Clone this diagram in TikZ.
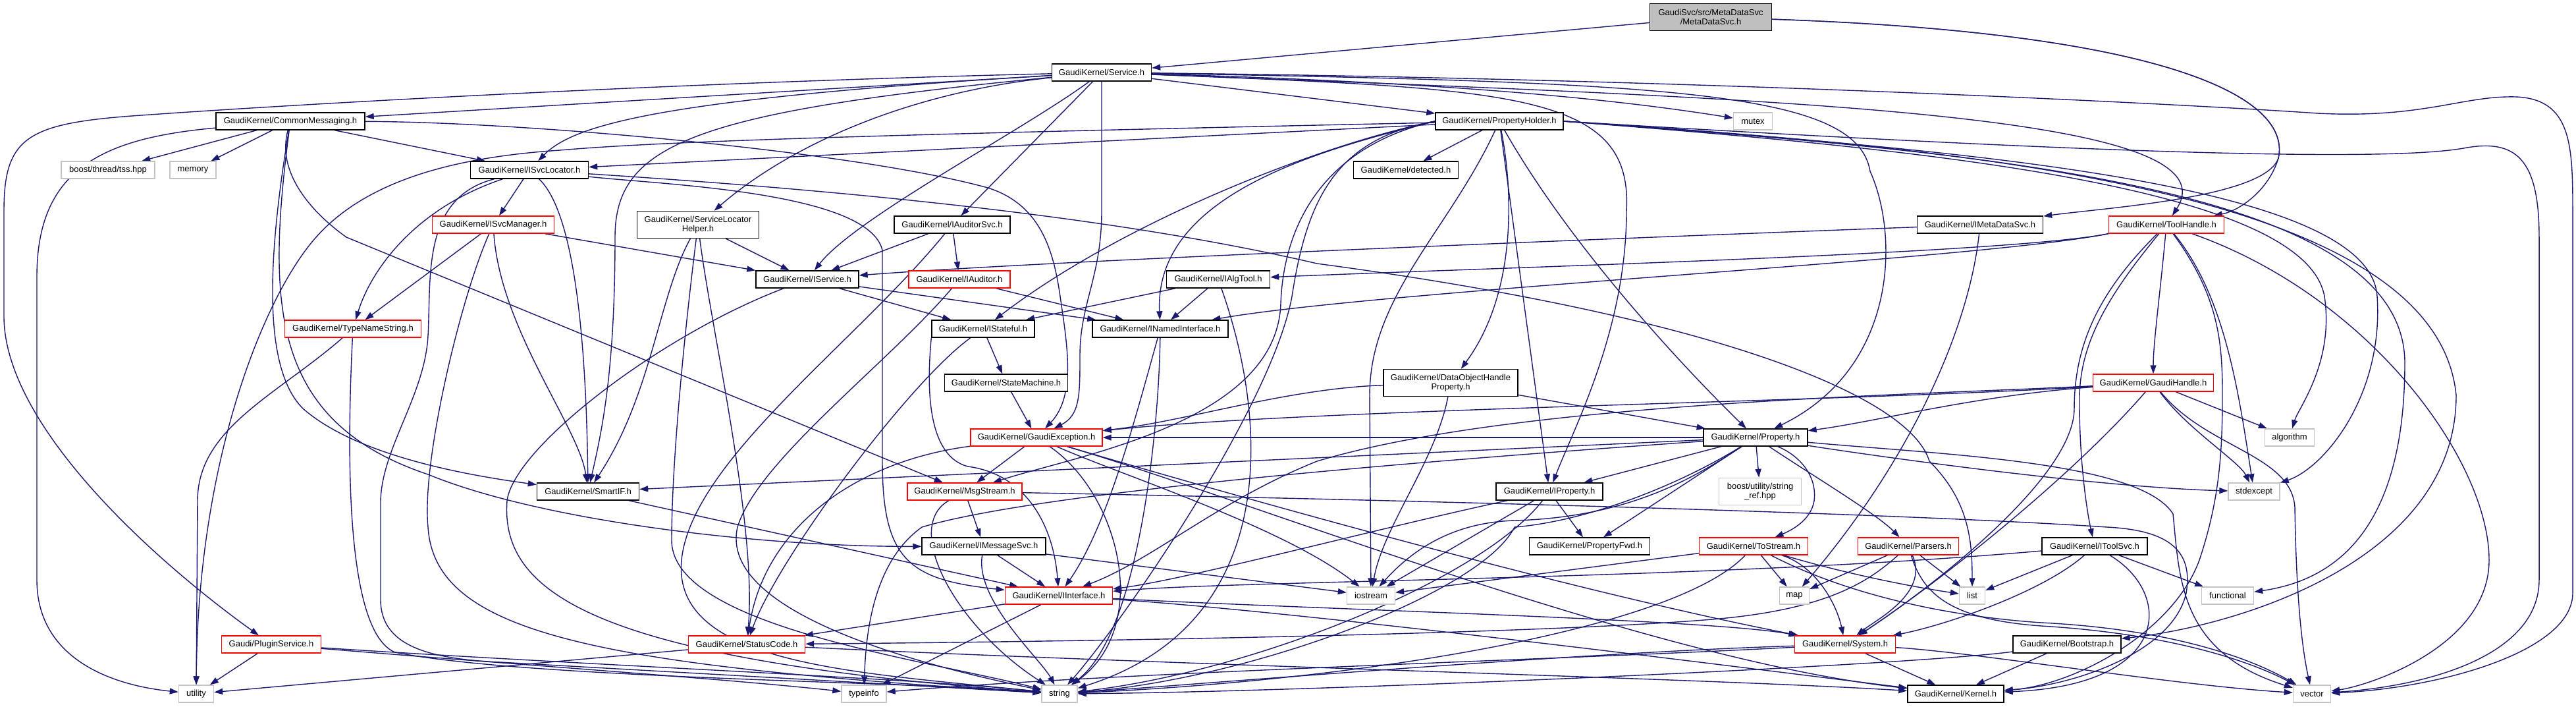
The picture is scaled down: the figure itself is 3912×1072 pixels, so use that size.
\documentclass[tikz,border=0pt]{standalone}
\usepackage{fontspec}
\setmainfont{Liberation Sans}
\usetikzlibrary{arrows.meta}
\definecolor{edgec}{HTML}{191970}
\definecolor{greyb}{HTML}{C4C4C4}
\definecolor{mdsfill}{HTML}{BFBFBF}
\pgfdeclarelayer{bg}
\pgfsetlayers{bg,main}
\begin{document}
\begin{tikzpicture}[x=1pt,y=-1pt,
  nodebase/.style={rectangle, fill=white, line width=1.4pt, minimum height=26pt, inner xsep=1pt, inner ysep=1pt, font=\fontsize{13pt}{14pt}\selectfont},
  nb/.style={nodebase, draw=black},
  nr/.style={nodebase, draw=red},
  ng/.style={nodebase, draw=greyb},
  two/.style={align=center, minimum height=41pt},
  e/.style={draw=edgec, line width=1.4pt, -{Triangle[length=13pt,width=9pt]}}
]
\useasboundingbox (0,0) rectangle (3912,1072);
% nodes
\node[nb, two, fill=mdsfill, minimum width=185pt] (mds) at (2598,26) {GaudiSvc/src/MetaDataSvc\\/MetaDataSvc.h};
\node[nb, minimum width=151pt] (service) at (1673,110) {GaudiKernel/Service.h};
\node[nb, minimum width=226pt] (commsg) at (441,184) {GaudiKernel/CommonMessaging.h};
\node[nb, minimum width=194pt] (propholder) at (2277,184) {GaudiKernel/PropertyHolder.h};
\node[ng, minimum width=59pt] (mutex) at (2662,184) {mutex};
\node[ng, minimum width=142pt] (tss) at (164,258) {boost/thread/tss.hpp};
\node[ng, minimum width=70pt] (memory) at (293,258) {memory};
\node[nb, minimum width=179pt] (isvcloc) at (804,258) {GaudiKernel/ISvcLocator.h};
\node[nb, minimum width=159pt] (detected) at (2135,258) {GaudiKernel/detected.h};
\node[nr, minimum width=185pt] (ismgr) at (749,341) {GaudiKernel/ISvcManager.h};
\node[nb, two, minimum width=185pt] (slh) at (1060,341) {GaudiKernel/ServiceLocator\\Helper.h};
\node[nb, minimum width=176pt] (iaudsvc) at (1446,341) {GaudiKernel/IAuditorSvc.h};
\node[nb, minimum width=191pt] (imds) at (3007,341) {GaudiKernel/IMetaDataSvc.h};
\node[nr, minimum width=175pt] (toolhandle) at (3290,341) {GaudiKernel/ToolHandle.h};
\node[nb, minimum width=156pt] (iservice) at (1226,424) {GaudiKernel/IService.h};
\node[nr, minimum width=154pt] (iauditor) at (1457,424) {GaudiKernel/IAuditor.h};
\node[nb, minimum width=157pt] (ialgtool) at (1850,424) {GaudiKernel/IAlgTool.h};
\node[nr, minimum width=207pt] (typename) at (536,499) {GaudiKernel/TypeNameString.h};
\node[nb, minimum width=156pt] (istateful) at (1493,499) {GaudiKernel/IStateful.h};
\node[nb, minimum width=206pt] (inamed) at (1762,499) {GaudiKernel/INamedInterface.h};
\node[nb, minimum width=187pt] (statemachine) at (1528,581) {GaudiKernel/StateMachine.h};
\node[nb, two, minimum width=204pt] (dohp) at (2203,581) {GaudiKernel/DataObjectHandle\\Property.h};
\node[nr, minimum width=183pt] (gaudihandle) at (3270,581) {GaudiKernel/GaudiHandle.h};
\node[nr, minimum width=200pt] (gexc) at (1574,664) {GaudiKernel/GaudiException.h};
\node[nb, minimum width=158pt] (property) at (2666,664) {GaudiKernel/Property.h};
\node[ng, minimum width=75pt] (algorithm) at (3477,664) {algorithm};
\node[nb, minimum width=155pt] (smartif) at (893,746) {GaudiKernel/SmartIF.h};
\node[nr, minimum width=174pt] (msgstream) at (1465,746) {GaudiKernel/MsgStream.h};
\node[nb, minimum width=162pt] (iproperty) at (2353,746) {GaudiKernel/IProperty.h};
\node[ng, two, minimum width=125pt] (stringref) at (2673,746) {boost/utility/string\\\_ref.hpp};
\node[ng, minimum width=78pt] (stdexcept) at (3423,746) {stdexcept};
\node[nb, minimum width=188pt] (imsgsvc) at (1494,829) {GaudiKernel/IMessageSvc.h};
\node[nb, minimum width=183pt] (propfwd) at (2414,829) {GaudiKernel/PropertyFwd.h};
\node[nr, minimum width=165pt] (tostream) at (2663,829) {GaudiKernel/ToStream.h};
\node[nr, minimum width=153pt] (parsers) at (2898,829) {GaudiKernel/Parsers.h};
\node[nb, minimum width=160pt] (itoolsvc) at (3181,829) {GaudiKernel/IToolSvc.h};
\node[nr, minimum width=163pt] (iinterface) at (1608,904) {GaudiKernel/IInterface.h};
\node[ng, minimum width=73pt] (iostream) at (2082,904) {iostream};
\node[ng, minimum width=45pt] (map) at (2725,904) {map};
\node[ng, minimum width=39pt] (list) at (2995,904) {list};
\node[ng, minimum width=79pt] (functional) at (3383,904) {functional};
\node[nr, minimum width=151pt] (pluginsvc) at (412,978) {Gaudi/PluginService.h};
\node[nr, minimum width=177pt] (statuscode) at (1134,978) {GaudiKernel/StatusCode.h};
\node[nr, minimum width=153pt] (system) at (2802,978) {GaudiKernel/System.h};
\node[nb, minimum width=164pt] (bootstrap) at (3139,978) {GaudiKernel/Bootstrap.h};
\node[ng, minimum width=53pt] (utility) at (298,1053) {utility};
\node[ng, minimum width=68pt] (typeinfo) at (1312,1053) {typeinfo};
\node[ng, minimum width=54pt] (string) at (1609,1053) {string};
\node[nb, minimum width=146pt] (kernel) at (2970,1053) {GaudiKernel/Kernel.h};
\node[ng, minimum width=57pt] (vector) at (3511,1053) {vector};

\begin{pgfonlayer}{bg}
% MetaDataSvc
\draw[e] (mds) -- (service);
\draw[e] (mds) .. controls (3300,50) and (3480,150) .. (3460,240) .. controls (3440,300) and (3200,315) .. (imds);
\draw[e] (mds) .. controls (3300,50) and (3480,150) .. (3460,240) .. controls (3445,290) and (3400,320) .. (toolhandle);
% Service
\draw[e] (service) -- (commsg);
\draw[e] (service) .. controls (1000,126) and (420,160) .. (200,176) .. controls (40,188) and (6,210) .. (6,320) -- (6,480) .. controls (6,640) and (220,840) .. (pluginsvc);
\draw[e] (service) .. controls (1000,150) and (870,190) .. (isvcloc);
\draw[e] (service) .. controls (1380,140) and (1200,220) .. (slh);
\draw[e] (service) -- (iaudsvc);
\draw[e] (service) .. controls (1550,200) and (1300,330) .. (iservice);
\draw[e] (service) -- (propholder);
\draw[e] (service) .. controls (2200,125) and (2450,150) .. (mutex);
\draw[e] (service) .. controls (2600,120) and (3350,160) .. (3520,172) .. controls (3680,180) and (3740,145) .. (3820,147) .. controls (3905,150) and (3907,220) .. (3907,320) -- (3907,900) .. controls (3907,990) and (3700,1045) .. (vector);
\draw[e] (service) .. controls (2300,135) and (2480,140) .. (2470,320) .. controls (2470,500) and (2390,650) .. (iproperty);
\draw[e] (service) .. controls (2550,125) and (2820,140) .. (2840,260) .. controls (2885,360) and (2880,560) .. (property);
\draw[e] (service) .. controls (1050,170) and (934,220) .. (934,360) .. controls (934,560) and (915,650) .. (smartif);
\draw[e] (service) -- (1673,320) .. controls (1673,420) and (1640,460) .. (1640,540) .. controls (1640,600) and (1640,630) .. (gexc);
\draw[e] (service) .. controls (2700,150) and (3400,170) .. (toolhandle);
% CommonMessaging
\draw[e] (commsg) -- (tss);
\draw[e] (commsg) -- (memory);
\draw[e] (commsg) -- (isvcloc);
\draw[e] (commsg) .. controls (150,210) and (56,260) .. (56,420) -- (56,880) .. controls (56,1000) and (170,1040) .. (utility);
\draw[e] (commsg) .. controls (420,260) and (470,320) .. (526,360) -- (msgstream);
\draw[e] (commsg) .. controls (405,400) and (400,560) .. (460,620) .. controls (540,690) and (700,720) .. (smartif);
\draw[e] (commsg) .. controls (405,460) and (410,640) .. (650,720) .. controls (820,790) and (1150,830) .. (imsgsvc);
\draw[e] (commsg) .. controls (800,185) and (1300,230) .. (1500,285) .. controls (1580,310) and (1600,380) .. (1610,450) .. controls (1620,520) and (1635,600) .. (gexc);
% ISvcLocator
\draw[e] (isvcloc) -- (ismgr);
\draw[e] (isvcloc) .. controls (620,320) and (560,420) .. (typename);
\draw[e] (isvcloc) .. controls (870,320) and (890,500) .. (smartif);
\draw[e] (isvcloc) .. controls (640,300) and (655,420) .. (650,510) .. controls (645,600) and (580,680) .. (578,760) -- (578,910) .. controls (578,980) and (650,1000) .. (760,1005) -- (string);
\draw[e] (isvcloc) .. controls (1000,280) and (1320,290) .. (1340,380) -- (1340,700) .. controls (1340,850) and (1380,880) .. (iinterface);
\draw[e] (isvcloc) .. controls (1300,290) and (1700,330) .. (2000,400) .. controls (2600,480) and (2900,600) .. (2930,700) .. controls (2990,760) and (2995,820) .. (list);
% ISvcManager
\draw[e] (ismgr) -- (typename);
\draw[e] (ismgr) -- (iservice);
\draw[e] (ismgr) .. controls (760,500) and (880,650) .. (smartif);
\draw[e] (ismgr) .. controls (700,450) and (640,700) .. (650,800) .. controls (660,960) and (900,1010) .. (string);
% ServiceLocatorHelper
\draw[e] (slh) -- (iservice);
\draw[e] (slh) .. controls (1000,450) and (990,600) .. (smartif);
\draw[e] (slh) .. controls (1040,500) and (1020,700) .. (1020,820) .. controls (1020,950) and (1400,1000) .. (string);
\draw[e] (slh) .. controls (1080,500) and (1150,800) .. (statuscode);
% IAuditorSvc
\draw[e] (iaudsvc) -- (iservice);
\draw[e] (iaudsvc) -- (iauditor);
\draw[e] (iaudsvc) .. controls (1300,520) and (1050,700) .. (1035,850) .. controls (1020,1010) and (1300,1020) .. (string);
% IMetaDataSvc
\draw[e] (imds) .. controls (2500,360) and (1600,395) .. (iservice);
\draw[e] (imds) .. controls (2990,500) and (2900,700) .. (map);
% ToolHandle
\draw[e] (toolhandle) .. controls (3280,450) and (3270,520) .. (gaudihandle);
\draw[e] (toolhandle.south west) .. controls (3050,385) and (2300,405) .. (ialgtool);
\draw[e] (toolhandle.south west) .. controls (3000,395) and (2100,440) .. (inamed);
\draw[e] (toolhandle) .. controls (3200,450) and (3160,520) .. (3158,600) .. controls (3157,700) and (3170,780) .. (itoolsvc);
\draw[e] (toolhandle) .. controls (3380,450) and (3400,600) .. (stdexcept);
\draw[e] (toolhandle) .. controls (3600,450) and (3780,700) .. (3780,850) .. controls (3780,980) and (3600,1040) .. (vector);
\draw[e] (toolhandle) .. controls (3370,450) and (3375,520) .. (3375,600) .. controls (3375,690) and (3370,760) .. (3340,850) .. controls (3300,960) and (3150,1040) .. (kernel);
\draw[e] (toolhandle) .. controls (3190,440) and (3150,520) .. (3150,620) .. controls (3150,720) and (2950,880) .. (system);
% IService
\draw[e] (iservice) -- (istateful);
\draw[e] (iservice) -- (inamed);
\draw[e] (iservice) .. controls (1000,510) and (780,680) .. (770,760) .. controls (760,900) and (900,1000) .. (string);
% IAuditor
\draw[e] (iauditor) -- (inamed);
\draw[e] (iauditor) .. controls (1350,550) and (1150,700) .. (1120,800) .. controls (1090,930) and (1400,1010) .. (string);
% IAlgTool
\draw[e] (ialgtool) -- (istateful);
\draw[e] (ialgtool) -- (inamed);
\draw[e] (ialgtool) .. controls (1930,650) and (1940,950) .. (string);
% TypeNameString
\draw[e] (typename) .. controls (420,600) and (300,650) .. (300,760) -- (utility);
\draw[e] (typename) .. controls (526,700) and (526,960) .. (600,990) .. controls (800,1030) and (1400,1035) .. (string);
% IStateful
\draw[e] (istateful) -- (statemachine);
\draw[e] (istateful.south west) .. controls (1410,560) and (1400,690) .. (1470,708) .. controls (1560,720) and (1600,800) .. (iinterface);
\draw[e] (istateful) .. controls (1380,580) and (1180,850) .. (statuscode);
% INamedInterface
\draw[e] (inamed) .. controls (1720,650) and (1680,800) .. (iinterface);
\draw[e] (inamed) .. controls (1760,650) and (1730,960) .. (string);
% StateMachine
\draw[e] (statemachine) -- (gexc);
% DataObjectHandleProperty
\draw[e] (dohp) -- (property);
\draw[e] (dohp) .. controls (2180,700) and (2100,800) .. (iostream);
\draw[e] (dohp) .. controls (1950,590) and (1800,640) .. (gexc);
% GaudiHandle
\draw[e] (gaudihandle) -- (algorithm);
\draw[e] (gaudihandle) .. controls (3000,600) and (2850,640) .. (property);
\draw[e] (gaudihandle) .. controls (2800,610) and (2000,620) .. (gexc);
\draw[e] (gaudihandle) .. controls (2900,600) and (2300,610) .. (2000,700) .. controls (1850,760) and (1750,850) .. (iinterface);
\draw[e] (gaudihandle) .. controls (3150,720) and (2950,880) .. (system);
\draw[e] (gaudihandle) .. controls (3350,680) and (3480,690) .. (3485,770) .. controls (3487,900) and (3495,980) .. (vector);
\draw[e] (gaudihandle) .. controls (3320,650) and (3400,700) .. (stdexcept);
% GaudiException
\draw[e] (gexc) .. controls (1300,700) and (1160,800) .. (statuscode);
\draw[e] (gexc) -- (msgstream);
\draw[e] (gexc) .. controls (1700,750) and (1750,950) .. (string);
\draw[e] (gexc) .. controls (1700,720) and (1950,800) .. (iostream);
\draw[e] (gexc) .. controls (1900,760) and (2400,900) .. (system);
\draw[e] (gexc) .. controls (1900,760) and (2500,1000) .. (kernel);
% MsgStream
\draw[e] (msgstream) -- (imsgsvc);
\draw[e] (msgstream) .. controls (1370,800) and (1450,950) .. (string);
\draw[e] (msgstream) .. controls (2200,760) and (2900,780) .. (3200,800) .. controls (3300,805) and (3330,840) .. (3320,900) .. controls (3300,990) and (3150,1040) .. (kernel);
% IMessageSvc
\draw[e] (imsgsvc) -- (iinterface);
\draw[e] (imsgsvc) .. controls (1480,910) and (1580,1000) .. (string);
\draw[e] (imsgsvc) -- (iostream);
% Property
\draw[e] (property) -- (iproperty);
\draw[e] (property) -- (propfwd);
\draw[e] (property) -- (stringref);
\draw[e] (property) .. controls (2730,690) and (2760,720) .. (2755,760) .. controls (2750,790) and (2720,805) .. (tostream);
\draw[e] (property) .. controls (2750,720) and (2850,780) .. (parsers);
\draw[e] (property) -- (smartif);
\draw[e] (property) -- (gexc);
\draw[e] (property) .. controls (2900,700) and (3200,740) .. (stdexcept);
\draw[e] (property) .. controls (2580,720) and (2480,785) .. (2300,790) .. controls (2200,793) and (2140,840) .. (iostream);
\draw[e] (property) .. controls (2560,730) and (2420,790) .. (2300,800) .. controls (2250,900) and (1900,1030) .. (string);
\draw[e] (property) .. controls (2300,690) and (1600,740) .. (1400,800) .. controls (1330,850) and (1315,950) .. (typeinfo);
\draw[e] (property) .. controls (2950,690) and (3250,700) .. (3300,780) .. controls (3310,880) and (3310,990) .. (vector);
% IProperty
\draw[e] (iproperty) -- (propfwd);
\draw[e] (iproperty) -- (iostream);
\draw[e] (iproperty) .. controls (2100,800) and (1800,880) .. (iinterface);
\draw[e] (iproperty) .. controls (2250,880) and (1900,1020) .. (string);
% ToStream
\draw[e] (tostream) -- (iostream);
\draw[e] (tostream) -- (map);
\draw[e] (tostream) .. controls (2760,860) and (2790,920) .. (system);
\draw[e] (tostream) .. controls (2800,870) and (2900,890) .. (list);
\draw[e] (tostream) .. controls (2800,900) and (2950,935) .. (3100,945) .. controls (3300,955) and (3420,1000) .. (vector);
\draw[e] (tostream) .. controls (2550,950) and (2100,1030) .. (string);
% Parsers
\draw[e] (parsers) -- (map);
\draw[e] (parsers) -- (list);
\draw[e] (parsers) .. controls (2840,880) and (2780,925) .. (2600,940) .. controls (2300,965) and (1500,975) .. (statuscode);
\draw[e] (parsers) .. controls (2920,900) and (2960,940) .. (3100,950) .. controls (3300,962) and (3420,1005) .. (vector);
\draw[e] (parsers) .. controls (2930,900) and (2850,940) .. (system);
% IToolSvc
\draw[e] (itoolsvc) -- (list);
\draw[e] (itoolsvc) -- (functional);
\draw[e] (itoolsvc) .. controls (3100,900) and (2950,950) .. (system);
\draw[e] (itoolsvc) .. controls (3300,900) and (3300,1040) .. (kernel);
\draw[e] (itoolsvc) .. controls (2600,880) and (1900,880) .. (iinterface);
% System
\draw[e] (system) -- (kernel);
\draw[e] (system) .. controls (2400,990) and (1800,1040) .. (string);
\draw[e] (system) .. controls (2400,1000) and (1700,1020) .. (typeinfo);
\draw[e] (system) .. controls (3000,990) and (3300,1040) .. (vector);
% Bootstrap
\draw[e] (bootstrap) -- (kernel);
\draw[e] (bootstrap) .. controls (2900,1010) and (2000,1050) .. (string);
% StatusCode
\draw[e] (statuscode) -- (utility);
\draw[e] (statuscode) .. controls (1800,1010) and (2600,1030) .. (kernel);
% IInterface
\draw[e] (iinterface) -- (statuscode);
\draw[e] (iinterface) -- (typeinfo);
\draw[e] (iinterface) .. controls (2000,925) and (2600,940) .. (system);
\draw[e] (iinterface) .. controls (2000,930) and (2700,1020) .. (kernel);
% SmartIF
\draw[e] (smartif) -- (iinterface);
% PluginService
\draw[e] (pluginsvc) -- (utility);
\draw[e] (pluginsvc) .. controls (800,1010) and (1100,1030) .. (typeinfo);
\draw[e] (pluginsvc) .. controls (900,1010) and (1400,1030) .. (string);
% PropertyHolder
\draw[e] (propholder) -- (detected);
\draw[e] (propholder) -- (isvcloc);
\draw[e] (propholder.west) .. controls (2000,220) and (1700,340) .. (istateful);
\draw[e] (propholder.west) .. controls (1990,230) and (1753,300) .. (inamed);
\draw[e] (propholder) .. controls (1300,205) and (1000,215) .. (850,228) .. controls (700,238) and (560,270) .. (480,360) .. controls (400,450) and (300,700) .. (utility);
\draw[e] (propholder.west) .. controls (2030,210) and (1985,300) .. (1962,450) .. controls (1930,620) and (1700,950) .. (string);
\draw[e] (propholder.west) .. controls (2020,220) and (1950,330) .. (1945,460) .. controls (1940,640) and (1640,690) .. (msgstream);
\draw[e] (propholder) .. controls (2200,350) and (2080,450) .. (2080,600) -- (iostream);
\draw[e] (propholder) .. controls (2300,300) and (2300,450) .. (dohp);
\draw[e] (propholder) -- (iproperty);
\draw[e] (propholder) .. controls (2400,400) and (2600,600) .. (property);
\draw[e] (propholder.east) .. controls (2900,225) and (3500,280) .. (3530,450) .. controls (3545,550) and (3490,620) .. (algorithm);
\draw[e] (propholder.east) .. controls (3000,230) and (3650,280) .. (3652,550) .. controls (3652,800) and (3550,880) .. (functional);
\draw[e] (propholder.east) .. controls (3000,228) and (3600,280) .. (3610,450) .. controls (3620,600) and (3530,710) .. (stdexcept);
\draw[e] (propholder.east) .. controls (3000,225) and (3700,290) .. (3730,600) .. controls (3730,850) and (3400,950) .. (bootstrap);
\draw[e] (propholder.east) .. controls (3000,222) and (3600,250) .. (3741,225) .. controls (3820,210) and (3856,240) .. (3856,360) -- (3856,880) .. controls (3856,990) and (3700,1040) .. (vector);
\end{pgfonlayer}
\end{tikzpicture}
\end{document}
